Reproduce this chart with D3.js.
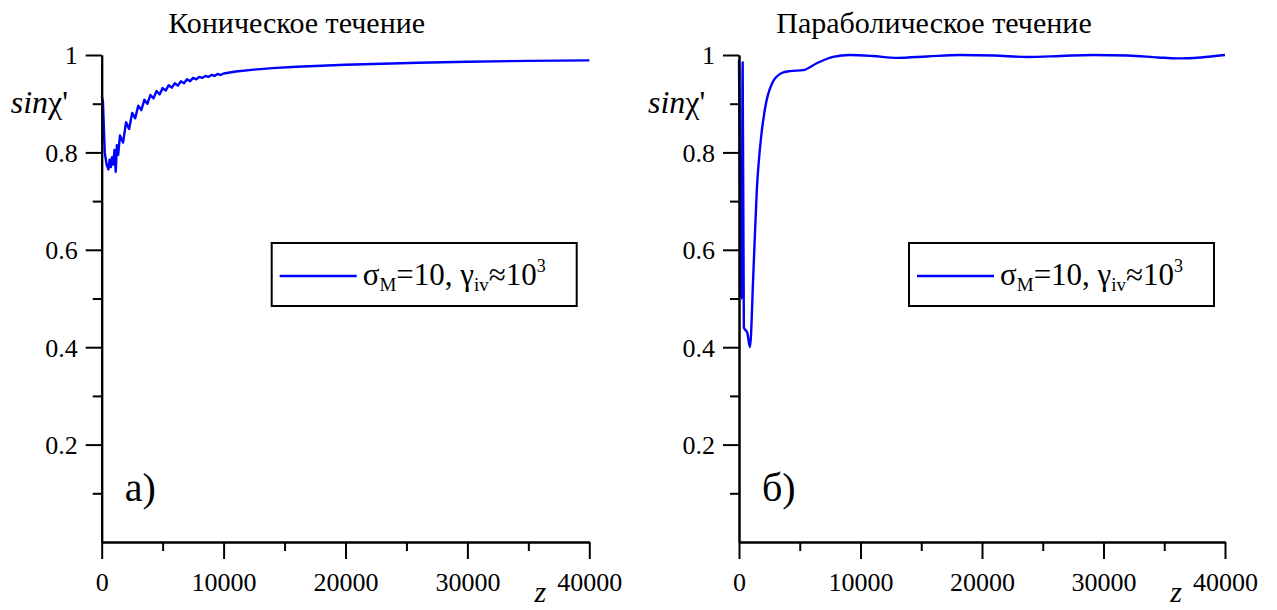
<!DOCTYPE html>
<html>
<head>
<meta charset="utf-8">
<script src="https://cdn.jsdelivr.net/npm/d3@7"></script>
<style>
  body { margin: 0; background: #fff; }
  svg { display: block; }
  text { font-family: "Liberation Serif", "Times New Roman", serif; fill: #000; }
</style>
</head>
<body>
<svg></svg>
<script>
// data
const titles = ['Коническое течение', 'Параболическое течение'];
const panelLetters = ['а)', 'б)'];
const xMajor = [0, 10000, 20000, 30000, 40000];
const xMinor = [5000, 15000, 25000, 35000];
const yMajor = [0.2, 0.4, 0.6, 0.8, 1];
const yMinor = [0.1, 0.3, 0.5, 0.7, 0.9];

// conical flow: jagged start, then a thin oscillating band up to ~10000
const conicZ = [0, 100, 250, 400, 550, 650, 750, 850, 950, 1050, 1150, 1250, 1350,
  1500, 1750, 2000, 2250, 2500, 2750, 3000, 3250, 3500, 3750, 4000, 4250, 4500, 4750, 5000, 5250,
  5500, 5750, 6000, 6250, 6500, 6750, 7000, 7250, 7500, 7750, 8000, 8250, 8500, 8750, 9000, 9250,
  9500, 9750, 10000, 11000, 12500, 14000, 16000, 18000, 20000, 23000, 26000, 30000, 35000, 40000];
const conicSin = [0.915, 0.905, 0.80, 0.775, 0.765, 0.785, 0.77, 0.79, 0.775, 0.805, 0.76, 0.815, 0.795,
  0.835, 0.82, 0.862, 0.848, 0.881, 0.87, 0.896, 0.887, 0.908, 0.9, 0.918, 0.911, 0.926, 0.919, 0.932, 0.927,
  0.938, 0.933, 0.942, 0.937, 0.946, 0.942, 0.95, 0.946, 0.953, 0.95, 0.955, 0.953, 0.957, 0.955, 0.959, 0.957,
  0.961, 0.959, 0.962, 0.966, 0.970, 0.973, 0.976, 0.978, 0.980, 0.982, 0.984, 0.986, 0.988, 0.989];

// parabolic flow
const paraZ = [0, 220, 300, 400, 680, 900, 1180, 1460, 1730, 2140, 2690, 3510, 4200, 5270, 6400, 7740,
  9140, 11000, 13000, 15500, 18200, 21000, 23700, 26500, 29100, 32000, 34500, 36000, 38000, 40000];
const paraSin = [0.99, 0.50, 0.985, 0.44, 0.43, 0.40, 0.55, 0.72, 0.81, 0.89, 0.94, 0.963, 0.967, 0.969, 0.983, 0.996,
  1.0, 0.998, 0.994, 0.997, 1.0, 0.999, 0.996, 0.998, 1.0, 0.999, 0.995, 0.993, 0.995, 1.0];

const width = 1277, height = 610;
const svg = d3.select('svg').attr('width', width).attr('height', height);

const panels = [
  { left: 101.7, right: 589.3, z: conicZ, v: conicSin, curve: d3.curveLinear },
  { left: 739, right: 1225, z: paraZ, v: paraSin, curve: d3.curveMonotoneX }
];
const plotTop = 55, plotBottom = 542;

panels.forEach((p, i) => {
  const x = d3.scaleLinear().domain([0, 40000]).range([p.left, p.right]);
  const y = d3.scaleLinear().domain([0, 1]).range([plotBottom, plotTop]);
  const g = svg.append('g');

  // curve
  const line = d3.line().x(d => x(d[0])).y(d => y(d[1])).curve(p.curve);
  g.append('path')
    .datum(p.z.map((z, k) => [z, p.v[k]]))
    .attr('d', line)
    .attr('fill', 'none')
    .attr('stroke', '#0000ff')
    .attr('stroke-width', 2.4)
    .attr('stroke-linejoin', 'round');

  // axes
  const xAxis = g.append('g').attr('transform', `translate(0,${plotBottom})`)
    .call(d3.axisBottom(x).tickValues(xMajor).tickSize(17).tickSizeOuter(0).tickPadding(6).tickFormat(d3.format('d')));
  g.append('g').attr('transform', `translate(0,${plotBottom})`)
    .call(d3.axisBottom(x).tickValues(xMinor).tickSize(9).tickSizeOuter(0).tickFormat(''));
  const yAxis = g.append('g').attr('transform', `translate(${p.left},0)`)
    .call(d3.axisLeft(y).tickValues(yMajor).tickSize(16).tickSizeOuter(0).tickPadding(8).tickFormat(d => d === 1 ? '1' : d3.format('.1f')(d)));
  g.append('g').attr('transform', `translate(${p.left},0)`)
    .call(d3.axisLeft(y).tickValues(yMinor).tickSize(9).tickSizeOuter(0).tickFormat(''));

  g.selectAll('.domain, .tick line').attr('stroke', '#000').attr('stroke-width', 2);
  g.selectAll('.tick text').attr('font-size', 26).attr('fill', '#000');
  xAxis.selectAll('.tick text').attr('dy', '1em');
  yAxis.selectAll('.tick text').attr('dy', '0.34em');

  // title
  g.append('text')
    .attr('x', p.left + 195).attr('y', 33)
    .attr('text-anchor', 'middle').attr('font-size', 30)
    .text(titles[i]);

  // y label
  const yl = g.append('text')
    .attr('x', p.left - 91).attr('y', y(0.9) + 9)
    .attr('font-size', 32).attr('font-style', 'italic');
  yl.append('tspan').text('sin');
  yl.append('tspan').attr('font-style', 'normal').text("χ'");

  // x label
  g.append('text')
    .attr('x', x(40000) - 49).attr('y', 602)
    .attr('text-anchor', 'middle').attr('font-size', 30).attr('font-style', 'italic')
    .text('z');

  // panel letter
  g.append('text')
    .attr('x', p.left + 23).attr('y', 501)
    .attr('font-size', 40)
    .text(panelLetters[i]);

  // legend
  const lx = p.left + 170, ly = 243;
  const leg = g.append('g');
  leg.append('rect')
    .attr('x', lx).attr('y', ly).attr('width', 305).attr('height', 63)
    .attr('fill', '#fff').attr('stroke', '#000').attr('stroke-width', 2);
  leg.append('line')
    .attr('x1', lx + 8).attr('x2', lx + 85).attr('y1', ly + 33).attr('y2', ly + 33)
    .attr('stroke', '#0000ff').attr('stroke-width', 2.4);
  const lt = leg.append('text').attr('x', lx + 91).attr('y', ly + 42).attr('font-size', 31);
  lt.append('tspan').text('σ');
  lt.append('tspan').attr('font-size', 19).attr('dy', 6).text('M');
  lt.append('tspan').attr('dy', -6).text('=10, γ');
  lt.append('tspan').attr('font-size', 19).attr('dy', 6).text('iv');
  lt.append('tspan').attr('dy', -6).text('≈10');
  lt.append('tspan').attr('font-size', 18).attr('dy', -13).text('3');
});
</script>
</body>
</html>
